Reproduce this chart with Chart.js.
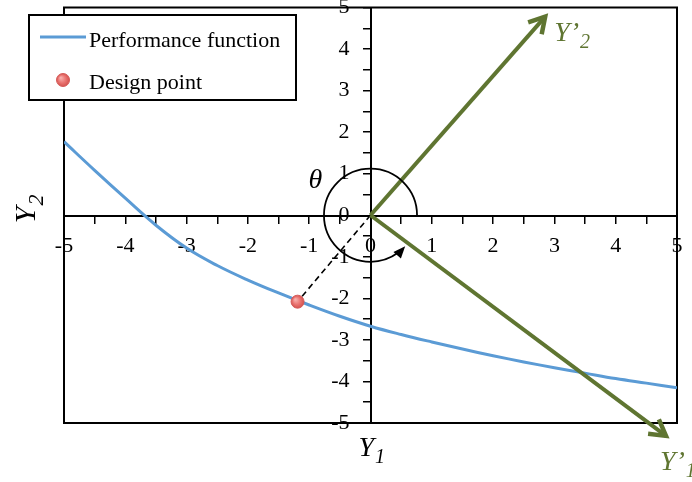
<!DOCTYPE html>
<html>
<head>
<meta charset="utf-8">
<script src="https://cdn.jsdelivr.net/npm/chart.js@4/dist/chart.umd.min.js"></script>
<style>
html,body{margin:0;padding:0;background:#ffffff;}
#wrap{width:692px;height:482px;position:relative;}
</style>
</head>
<body>
<div id="wrap"><canvas id="c" width="692" height="482"></canvas></div>
<script>
// ---- data ----
const curveX = [-5, -4.5, -4, -3.5, -3, -2.5, -2, -1.5, -1, -0.5, 0, 0.5, 1, 1.5, 2, 2.5, 3, 3.5, 4, 4.5, 5];
const curveY = [1.77, 1.08, 0.41, -0.24, -0.79, -1.21, -1.56, -1.87, -2.16, -2.43, -2.67, -2.87, -3.05, -3.22, -3.38, -3.53, -3.67, -3.80, -3.93, -4.04, -4.15];
const designPoint = {x: -1.19, y: -2.08};
const origin = {x: 0, y: 0};
const vectorY2End = {x: 2.85, y: 4.78};
const vectorY1End = {x: 4.82, y: -5.31};
const axisMin = -5, axisMax = 5;
const minorStep = 0.5;
const seriesNames = ['Performance function', 'Design point'];
const axisNames = {x: 'Y', xSub: '1', y: 'Y', ySub: '2'};
const rotatedNames = {y1: 'Y\u2019', y1Sub: '1', y2: 'Y\u2019', y2Sub: '2'};
const angleName = '\u03b8';

const BLUE = '#5b9bd5';
const GREEN = '#5f7531';
const RED = '#e8706d';
const SERIF = '"Liberation Serif", "Times New Roman", serif';

const curveData = curveX.map((x, i) => ({x: x, y: curveY[i]}));

function redGradient(ctx, x, y, r) {
  const g = ctx.createRadialGradient(x - r * 0.35, y - r * 0.35, 0.5, x, y, r);
  g.addColorStop(0, '#f7b0ad');
  g.addColorStop(0.55, '#ea7572');
  g.addColorStop(1, '#d4534f');
  return g;
}

// ---- plugins ----
const framePlugin = {
  id: 'frame',
  beforeDatasetsDraw(chart) {
    const {ctx, chartArea: a} = chart;
    ctx.save();
    ctx.strokeStyle = '#000';
    ctx.lineWidth = 2;
    ctx.strokeRect(a.left, a.top, a.right - a.left, a.bottom - a.top);
    ctx.restore();
  }
};

const arrowPlugin = {
  id: 'arrows',
  afterDatasetsDraw(chart) {
    const ctx = chart.ctx;
    chart.data.datasets.forEach((ds, i) => {
      if (!ds.arrowHead) return;
      const pts = chart.getDatasetMeta(i).data;
      const p0 = pts[pts.length - 2], p1 = pts[pts.length - 1];
      const ang = Math.atan2(p1.y - p0.y, p1.x - p0.x);
      const L = 18, spread = Math.PI / 6;
      ctx.save();
      ctx.strokeStyle = ds.borderColor;
      ctx.lineWidth = ds.borderWidth + 0.5;
      ctx.lineJoin = 'miter';
      ctx.lineCap = 'butt';
      ctx.beginPath();
      ctx.moveTo(p1.x - L * Math.cos(ang - spread), p1.y - L * Math.sin(ang - spread));
      ctx.lineTo(p1.x, p1.y);
      ctx.lineTo(p1.x - L * Math.cos(ang + spread), p1.y - L * Math.sin(ang + spread));
      ctx.stroke();
      ctx.restore();
    });
  }
};

const anglePlugin = {
  id: 'angleArc',
  afterDatasetsDraw(chart, args, opts) {
    const {ctx, scales} = chart;
    const cx = scales.x.getPixelForValue(0);
    const cy = scales.y.getPixelForValue(0);
    const r = Math.abs(scales.y.getPixelForValue(opts.radius) - cy);
    const end = opts.endAngle;
    ctx.save();
    ctx.strokeStyle = '#000';
    ctx.lineWidth = 1.8;
    ctx.beginPath();
    ctx.arc(cx, cy, r, 0, end + 0.2, true);
    ctx.stroke();
    const ex = cx + r * Math.cos(end), ey = cy + r * Math.sin(end);
    const dx = Math.sin(end), dy = -Math.cos(end);
    const nx = -dy, ny = dx;
    const len = 12, hw = 5;
    ctx.fillStyle = '#000';
    ctx.beginPath();
    ctx.moveTo(ex, ey);
    ctx.lineTo(ex - dx * len + nx * hw, ey - dy * len + ny * hw);
    ctx.lineTo(ex - dx * len - nx * hw, ey - dy * len - ny * hw);
    ctx.closePath();
    ctx.fill();
    ctx.restore();
  }
};

function subText(ctx, main, sub, x, y, size, color) {
  ctx.fillStyle = color;
  ctx.font = 'italic ' + size + 'px ' + SERIF;
  ctx.textBaseline = 'alphabetic';
  ctx.textAlign = 'left';
  ctx.fillText(main, x, y);
  const w = ctx.measureText(main).width;
  ctx.font = 'italic ' + Math.round(size * 0.72) + 'px ' + SERIF;
  ctx.fillText(sub, x + w + 1, y + size * 0.25);
}

const labelPlugin = {
  id: 'labels',
  afterDraw(chart) {
    const {ctx, scales, chartArea: a} = chart;
    const cx = scales.x.getPixelForValue(0);
    const cy = scales.y.getPixelForValue(0);
    ctx.save();
    ctx.fillStyle = '#000';
    ctx.font = 'italic 28px ' + SERIF;
    ctx.textBaseline = 'alphabetic';
    ctx.textAlign = 'left';
    ctx.fillText(angleName, cx - 62, cy - 27);
    subText(ctx, axisNames.x, axisNames.xSub, cx - 12, a.bottom + 33, 28, '#000');
    const p2x = scales.x.getPixelForValue(vectorY2End.x), p2y = scales.y.getPixelForValue(vectorY2End.y);
    subText(ctx, rotatedNames.y2, rotatedNames.y2Sub, p2x + 9, p2y + 24, 28, GREEN);
    const p1x = scales.x.getPixelForValue(vectorY1End.x), p1y = scales.y.getPixelForValue(vectorY1End.y);
    subText(ctx, rotatedNames.y1, rotatedNames.y1Sub, p1x - 6, p1y + 34, 28, GREEN);
    ctx.save();
    ctx.translate(35, cy + 8);
    ctx.rotate(-Math.PI / 2);
    subText(ctx, axisNames.y, axisNames.ySub, 0, 0, 30, '#000');
    ctx.restore();
    ctx.restore();
  }
};

const legendPlugin = {
  id: 'boxLegend',
  afterDraw(chart, args, opts) {
    const ctx = chart.ctx;
    ctx.save();
    ctx.fillStyle = '#fff';
    ctx.fillRect(opts.x, opts.y, opts.w, opts.h);
    ctx.strokeStyle = '#000';
    ctx.lineWidth = 2;
    ctx.strokeRect(opts.x, opts.y, opts.w, opts.h);
    ctx.font = '22px ' + SERIF;
    ctx.textBaseline = 'alphabetic';
    ctx.textAlign = 'left';
    const items = chart.data.datasets.filter(d => d.inLegend);
    items.sort((p, q) => p.legendIndex - q.legendIndex);
    items.forEach((ds, k) => {
      const rowY = opts.y + 22 + k * 42;
      if (ds.showLine) {
        ctx.strokeStyle = ds.borderColor;
        ctx.lineWidth = ds.borderWidth;
        ctx.beginPath();
        ctx.moveTo(opts.x + 11, rowY);
        ctx.lineTo(opts.x + 57, rowY);
        ctx.stroke();
      } else {
        const mx = opts.x + 34, my = rowY + 1, r = ds.pointRadius;
        ctx.fillStyle = redGradient(ctx, mx, my, r);
        ctx.strokeStyle = ds.borderColor;
        ctx.lineWidth = 1;
        ctx.beginPath();
        ctx.arc(mx, my, r, 0, Math.PI * 2);
        ctx.fill();
        ctx.stroke();
      }
      ctx.fillStyle = '#000';
      ctx.fillText(ds.label, opts.x + 60, rowY + 10);
    });
    ctx.restore();
  }
};

const tickCallback = v => (Math.abs(v - Math.round(v)) < 1e-9 ? String(Math.round(v)) : '');

new Chart(document.getElementById('c'), {
  type: 'scatter',
  data: {
    datasets: [
      {
        label: seriesNames[1], data: [designPoint], inLegend: true, legendIndex: 1,
        showLine: false, pointRadius: 6.5, pointHoverRadius: 6.5,
        backgroundColor: c => {
          const ch = c.chart;
          if (!ch.chartArea || !ch.scales.x) return RED;
          const x = ch.scales.x.getPixelForValue(designPoint.x);
          const y = ch.scales.y.getPixelForValue(designPoint.y);
          return redGradient(ch.ctx, x, y, 6.5);
        },
        borderColor: '#d65c5a', borderWidth: 1
      },
      {
        label: 'Y1v', data: [origin, vectorY1End], showLine: true, arrowHead: true,
        borderColor: GREEN, borderWidth: 4, pointRadius: 0, clip: false
      },
      {
        label: 'Y2v', data: [origin, vectorY2End], showLine: true, arrowHead: true,
        borderColor: GREEN, borderWidth: 4, pointRadius: 0, clip: false
      },
      {
        label: 'dash', data: [origin, designPoint], showLine: true,
        borderColor: '#000', borderWidth: 1.6, borderDash: [6, 4], pointRadius: 0
      },
      {
        label: seriesNames[0], data: curveData, inLegend: true, legendIndex: 0,
        showLine: true, borderColor: BLUE, borderWidth: 3, pointRadius: 0,
        tension: 0.4
      }
    ]
  },
  options: {
    responsive: false,
    animation: false,
    devicePixelRatio: 1,
    layout: {padding: {left: 64, right: 15, top: 5, bottom: 59}},
    events: [],
    plugins: {
      legend: {display: false},
      tooltip: {enabled: false},
      angleArc: {radius: 1.12, endAngle: 0.73},
      boxLegend: {x: 29, y: 15, w: 267, h: 85}
    },
    scales: {
      x: {
        type: 'linear', min: axisMin, max: axisMax,
        position: 'center',
        afterFit: s => { s.paddingLeft = 0; s.paddingRight = 0; },
        border: {display: true, color: '#000', width: 2},
        grid: {drawOnChartArea: false, drawTicks: true, tickLength: 7, color: '#000', lineWidth: 1.5},
        ticks: {stepSize: minorStep, autoSkip: false, maxRotation: 0, color: '#000', padding: 11,
                font: {family: SERIF, size: 22}, callback: tickCallback}
      },
      y: {
        type: 'linear', min: axisMin, max: axisMax,
        position: 'center',
        afterFit: s => { s.paddingTop = 0; s.paddingBottom = 0; },
        border: {display: true, color: '#000', width: 2},
        grid: {drawOnChartArea: false, drawTicks: true, tickLength: 7, color: '#000', lineWidth: 1.5},
        ticks: {stepSize: minorStep, autoSkip: false, color: '#000', padding: 14,
                font: {family: SERIF, size: 22}, callback: tickCallback}
      }
    }
  },
  plugins: [framePlugin, arrowPlugin, anglePlugin, labelPlugin, legendPlugin]
});
</script>
</body>
</html>
